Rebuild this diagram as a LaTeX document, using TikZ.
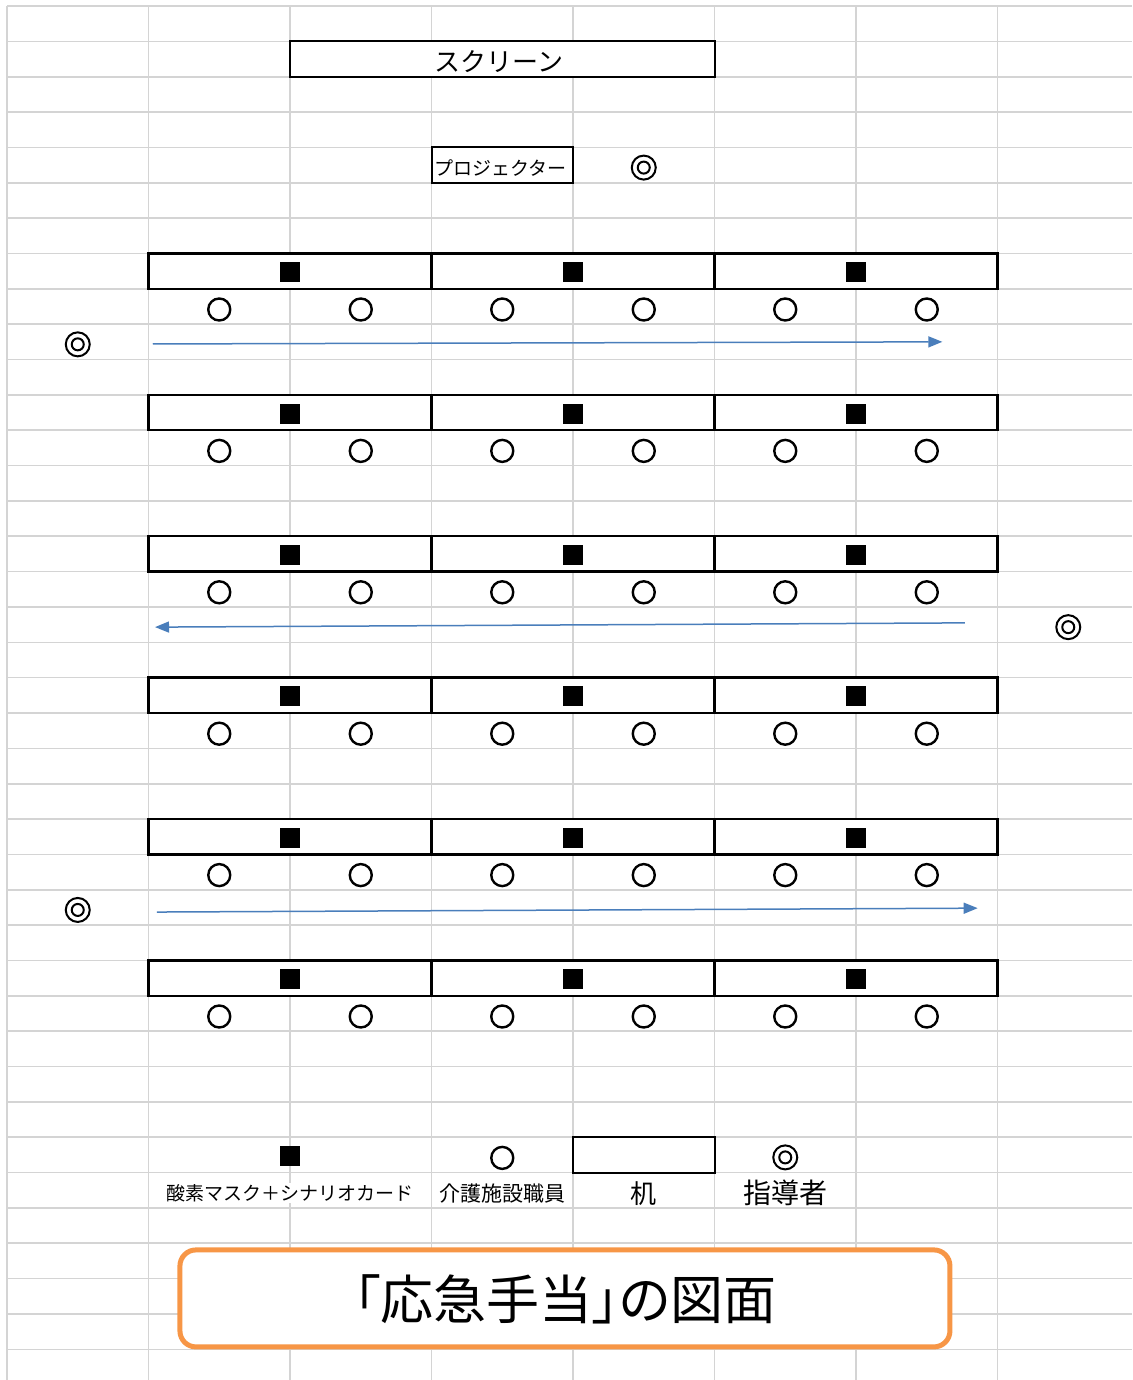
\documentclass[tikz,border=0pt]{standalone}
\usepackage{fontspec}
\setmainfont{Noto Sans CJK JP}
\usetikzlibrary{arrows.meta, positioning, calc}

\definecolor{gridgray}{HTML}{D4D4D4}
\definecolor{arrowblue}{HTML}{4A7EBB}
\definecolor{titleorange}{HTML}{F79646}

\tikzset{
  gridline/.style={gridgray, line width=1.6pt},
  desk/.style={draw, fill=white, line width=2.4pt, minimum width=283pt, minimum height=35.35pt, inner sep=0pt},
  mask/.style={fill=black, minimum size=20pt, inner sep=0pt, yshift=-1pt},
  seat/.style={circle, draw, line width=2.4pt, minimum size=22pt, inner sep=0pt, yshift=-3pt},
  leader/.style={circle, draw, line width=2pt, minimum size=24pt, inner sep=0pt, yshift=-2.5pt,
    path picture={\draw[line width=2pt] (path picture bounding box.center) circle (6pt);}},
  flow/.style={arrowblue, line width=1.5pt, -{Triangle[length=14pt, width=11pt]}},
  legend/.style={fill=white, inner sep=1pt, yshift=-3pt, font=\fontsize{19}{22}\selectfont}
}

\begin{document}
\begin{tikzpicture}[x=141.5pt, y=-35.35pt]
\useasboundingbox (-0.0495,-0.17) rectangle (7.9505,38.868);

% Sheet grid
\foreach \i in {0,...,7} \draw[gridline] (\i,0) -- (\i,38.868);
\foreach \j in {0,...,38} \draw[gridline] (0,\j) -- (7.9505,\j);

% Screen and projector
\node[draw, fill=white, line width=2pt, minimum width=424.5pt, minimum height=35.35pt, inner sep=0pt] (screen) at (3.5,1.5) {};
\node[font=\fontsize{26}{30}\selectfont, xshift=-3pt, yshift=-3pt] (screent) at (screen) {スクリーン};
\node[draw, fill=white, line width=2pt, minimum width=141.5pt, minimum height=35.35pt, inner sep=0pt] (proj) at (3.5,4.5) {};
\node[font=\fontsize{19}{22}\selectfont, xshift=-1.5pt, yshift=-3pt] (projt) at (proj) {プロジェクター};
\node[leader] (l0) at (4.5,4.5) {};

% Desks, masks and seats
\foreach \r [count=\k] in {7,11,15,19,23,27} {
  \foreach \c [count=\m] in {2,4,6} {
    \node[desk] (d\k\m) at (\c,\r+0.5) {};
    \node[mask] (m\k\m) at (d\k\m) {};
  }
  \foreach \c [count=\m] in {1.5,2.5,...,6.5}
    \node[seat] (s\k\m) at (\c,\r+1.5) {};
}

% Instructors
\node[leader] (l1) at (0.5,9.5) {};
\node[leader] (l2) at (7.5,17.5) {};
\node[leader] (l3) at (0.5,25.5) {};

% Walking routes
\coordinate (a1s) at (1.03,9.56);
\coordinate (a1e) at (6.61,9.5);
\coordinate (a2s) at (6.77,17.45);
\coordinate (a2e) at (1.046,17.57);
\coordinate (a3s) at (1.06,25.63);
\coordinate (a3e) at (6.86,25.52);
\draw[flow] (a1s) -- (a1e);
\draw[flow] (a2s) -- (a2e);
\draw[flow] (a3s) -- (a3e);

% Legend
\node[mask] (km) at (2,32.5) {};
\node[seat] (ks) at (3.5,32.5) {};
\node[draw, fill=white, line width=2pt, minimum width=141.5pt, minimum height=35.35pt] (kd) at (4.5,32.5) {};
\node[leader] (kl) at (5.5,32.5) {};
\node[legend] (tm) at (2,33.5) {酸素マスク＋シナリオカード};
\node[legend, font=\fontsize{21}{23}\selectfont] (ts) at (3.5,33.5) {介護施設職員};
\node[legend, font=\fontsize{26}{28}\selectfont] (td) at (4.5,33.5) {机};
\node[legend, font=\fontsize{28}{30}\selectfont] (tl) at (5.5,33.5) {指導者};

% Title
\node[draw=titleorange, fill=white, line width=5pt, rounded corners=16pt, minimum width=770pt,
  minimum height=97pt] (title) at (3.943,36.56) {};
\node[font=\fontsize{53}{56}\selectfont\addfontfeatures{RawFeature=+palt}, yshift=-1pt] (titlet) at (title) {「応急手当」の図面};

\end{tikzpicture}
\end{document}
